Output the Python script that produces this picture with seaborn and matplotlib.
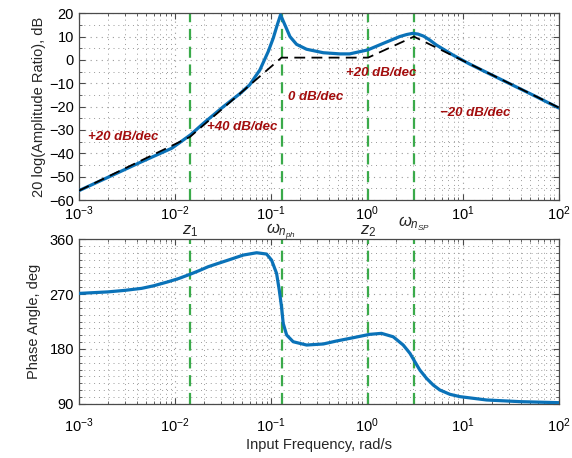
import numpy as np
import pandas as pd
import matplotlib
matplotlib.use("Agg")
import matplotlib.pyplot as plt
import seaborn as sns
from matplotlib.ticker import LogLocator, MultipleLocator, AutoMinorLocator, NullFormatter

# ---------------- data ----------------
mag_freq = [0.001, 0.002, 0.0045, 0.0093, 0.0145, 0.020, 0.032, 0.048, 0.060, 0.0767,
            0.0938, 0.1057, 0.1164, 0.126, 0.140, 0.158, 0.185, 0.235, 0.351, 0.524, 0.66,
            1.02, 1.48, 2.19, 2.6, 3.0, 3.4, 3.9, 4.5, 5.3, 7.9, 11.7, 17.8, 31.6, 56.0, 100.0]
mag_db = [-56.0, -50.3, -43.6, -37.8, -32.1, -27.0, -20.0, -14.3, -10.7, -4.3,
          3.6, 9.3, 15.0, 19.3, 15.0, 10.0, 6.7, 4.6, 3.1, 2.6, 2.6,
          4.3, 7.1, 10.0, 10.9, 11.4, 11.1, 10.2, 8.6, 6.4, 2.1, -1.7, -5.4, -10.4, -15.4, -20.6]

asym_freq = [0.001, 0.0143, 0.129, 1.03, 3.09, 100.0]
asym_db = [-56.0, -33.0, 1.0, 1.0, 10.0, -20.4]

ph_freq = [0.001, 0.002, 0.003, 0.0045, 0.006, 0.0085, 0.011, 0.0143, 0.018, 0.0222, 0.028,
           0.0374, 0.0515, 0.071, 0.090,
           0.1016, 0.1146, 0.1222, 0.129, 0.1343, 0.1459, 0.1706, 0.2355, 0.351, 0.48, 0.72,
           1.07, 1.42, 1.88, 2.39, 2.81, 3.16, 3.56, 4.18, 4.91, 5.75, 7.33, 9.3, 17.7, 39.0, 100.0]
ph_deg = [271.0, 273.5, 276.0, 279.3, 283.5, 290.1, 295.5, 302.2, 308.5, 314.7, 320.0,
          326.5, 333.8, 337.6, 335.5,
          325.6, 303.8, 276.5, 249.2, 222.0, 202.9, 191.9, 186.5, 188.2, 193.0, 198.5,
          204.0, 205.6, 200.0, 186.5, 172.9, 159.2, 145.6, 132.0, 121.0, 112.9, 105.8, 102.0, 96.5, 93.8, 92.1]

break_freqs = [0.0143, 0.129, 1.03, 3.09]
break_labels = ["$z_1$", "$\\omega_{n_{ph}}$", "$z_2$", "$\\omega_{n_{SP}}$"]
break_label_y = [-0.165, -0.172, -0.165, -0.125]

slope_texts = ["+20 dB/dec", "+40 dB/dec", "0 dB/dec", "+20 dB/dec", "\u221220 dB/dec"]
slope_freq = [0.0029, 0.050, 0.295, 1.40, 13.3]
slope_db = [-33.0, -28.7, -15.7, -5.4, -22.6]

mag_yticks = [-60, -50, -40, -30, -20, -10, 0, 10, 20]
ph_yticks = [90, 180, 270, 360]

# ---------------- style ----------------
sns.set_style("ticks")
plt.rcParams["font.family"] = ["Liberation Sans", "DejaVu Sans"]
plt.rcParams["mathtext.fontset"] = "custom"
plt.rcParams["mathtext.rm"] = "Liberation Sans"
plt.rcParams["mathtext.it"] = "Liberation Sans:italic"
plt.rcParams["mathtext.bf"] = "Liberation Sans:bold"

BLUE = "#0a72b8"
GREEN = "#3aaa4a"
RED = "#a30d0d"
GRID = "#9a9a9a"
FRAME = "#4a4a4a"

fig = plt.figure(figsize=(5.72, 4.58), dpi=100)
ax1 = fig.add_axes([0.138, 0.5633, 0.839, 0.4077])
ax2 = fig.add_axes([0.138, 0.118, 0.839, 0.360])

mag_df = pd.DataFrame({"freq": mag_freq, "db": mag_db})
asym_df = pd.DataFrame({"freq": asym_freq, "db": asym_db})
ph_df = pd.DataFrame({"freq": ph_freq, "deg": ph_deg})

for ax in (ax1, ax2):
    ax.set_xscale("log")

sns.lineplot(data=mag_df, x="freq", y="db", ax=ax1, color=BLUE, lw=2.3,
             sort=False, estimator=None, zorder=3)
sns.lineplot(data=asym_df, x="freq", y="db", ax=ax1, color="black", lw=1.3,
             sort=False, estimator=None, zorder=4, dashes=False,
             linestyle=(0, (6, 3.5)))
sns.lineplot(data=ph_df, x="freq", y="deg", ax=ax2, color=BLUE, lw=2.3,
             sort=False, estimator=None, zorder=3)

for ax in (ax1, ax2):
    for f in break_freqs:
        ax.axvline(f, color=GREEN, lw=1.6, ls=(0, (5, 3)), zorder=2)
    ax.set_xlim(1e-3, 1e2)
    ax.xaxis.set_major_locator(LogLocator(base=10, numticks=10))
    ax.xaxis.set_minor_locator(LogLocator(base=10, subs=np.arange(2, 10), numticks=20))
    ax.xaxis.set_minor_formatter(NullFormatter())
    ax.grid(True, which="major", ls=(0, (1, 4)), color=GRID, lw=0.8)
    ax.grid(True, which="minor", ls=(0, (1, 4)), color=GRID, lw=0.7)
    ax.tick_params(which="both", direction="in", top=True, right=True,
                   colors=FRAME, labelcolor="black", labelsize=10.5)
    ax.tick_params(which="major", length=4)
    ax.tick_params(which="minor", length=2)
    for s in ax.spines.values():
        s.set_color(FRAME)
        s.set_linewidth(0.9)
    ax.set_xlabel("")

ax1.set_ylim(-60, 20)
ax1.set_yticks(mag_yticks)
ax1.yaxis.set_minor_locator(MultipleLocator(5))
ax1.set_ylabel("20 log(Amplitude Ratio), dB", fontsize=10.5, labelpad=2)

ax2.set_ylim(90, 360)
ax2.set_yticks(ph_yticks)
ax2.yaxis.set_minor_locator(AutoMinorLocator(8))
ax2.tick_params(axis="x", which="major", pad=9)
ax2.set_ylabel("Phase Angle, deg", fontsize=10.5, labelpad=6)
ax2.set_xlabel("Input Frequency, rad/s", fontsize=10.5, labelpad=2)

for f, lab, yy in zip(break_freqs, break_labels, break_label_y):
    ax1.text(f, yy, lab, transform=ax1.get_xaxis_transform(), ha="center",
             va="center", fontsize=12)

for t, f, d in zip(slope_texts, slope_freq, slope_db):
    ax1.text(f, d, t, color=RED, fontsize=9.5, fontweight="bold",
             fontstyle="italic", ha="center", va="center", zorder=5)

fig.savefig("out.png", dpi=100)
